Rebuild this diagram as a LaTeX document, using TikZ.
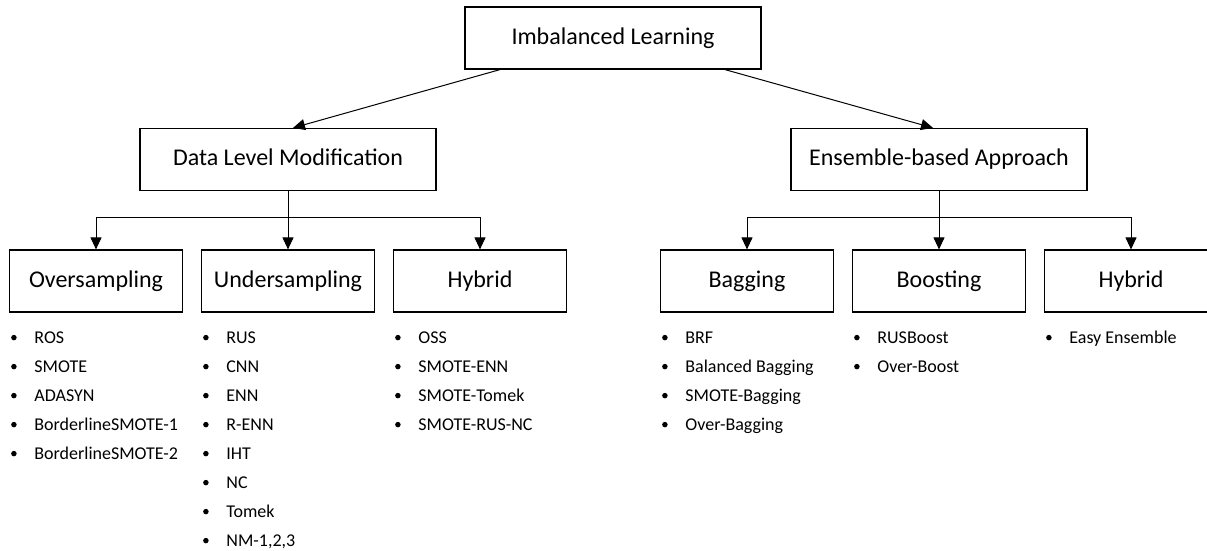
\documentclass[tikz,border=0pt]{standalone}
\usepackage{fontspec}
\setmainfont{Carlito}
\usetikzlibrary{arrows.meta,calc}
\tikzset{box/.style={draw, line width=1.2pt, minimum width=296pt, minimum height=62pt,
    inner sep=0pt, text height=17pt, text depth=5pt, font=\fontsize{24}{28}\selectfont},
  subbox/.style={box, minimum width=173pt},
  dot/.style={circle, fill, inner sep=0pt, minimum size=5.5pt},
  item/.style={anchor=base west, inner sep=0pt, font=\fontsize{18}{22}\selectfont}}
\begin{document}
\begin{tikzpicture}[x=1pt, y=-1pt, line width=1pt,
      >={Triangle[length=12pt,width=11pt]}]
      \useasboundingbox (0,0) rectangle (1207,550);
      % top levels
      \node[box] (root) at (613,38) {Imbalanced Learning};
      \node[box] (data) at (288,159.5) {Data Level Modification};
      \node[box] (ens) at (939,159.5) {Ensemble-based Approach};
      \draw [->] ([xshift=-113pt]root.south) -- ([xshift=5pt]data.north);
      \draw [->] ([xshift=112pt]root.south) -- ([xshift=-6pt]ens.north);
      % categories
      \node[subbox] (over) at (96,281) {Oversampling};
      \node[subbox] (under) at (288,281) {Undersampling};
      \node[subbox] (lhyb) at (480,281) {Hybrid};
      \node[subbox] (bag) at (747,281) {Bagging};
      \node[subbox] (boost) at (939,281) {Boosting};
      \node[subbox] (rhyb) at (1131,281) {Hybrid};
      \coordinate (lbus) at (288,217);
      \coordinate (rbus) at (939,217);
      \draw [->] (data.south) -- (under.north);
      \draw [->] (lbus) -| (over.north);
      \draw [->] (lbus) -| (lhyb.north);
      \draw [->] (ens.south) -- (boost.north);
      \draw [->] (rbus) -| (bag.north);
      \draw [->] (rbus) -| (rhyb.north);
      % lists
      \foreach \grp/\lst in {over/{ROS,SMOTE,ADASYN,BorderlineSMOTE-1,BorderlineSMOTE-2},
          under/{RUS,CNN,ENN,R-ENN,IHT,NC,Tomek,{NM-1,2,3}},
          lhyb/{OSS,SMOTE-ENN,SMOTE-Tomek,SMOTE-RUS-NC},
          bag/{BRF,Balanced Bagging,SMOTE-Bagging,Over-Bagging},
          boost/{RUSBoost,Over-Boost},
          rhyb/{Easy Ensemble}}
        \foreach \t [count=\i] in \lst
          \path ($(\grp.south west)+(5,{25+29*(\i-1)})$) node[dot] (\grp-dot-\i) {}
            ++(20,6) node[item] (\grp-item-\i) {\t};
\end{tikzpicture}
\end{document}
